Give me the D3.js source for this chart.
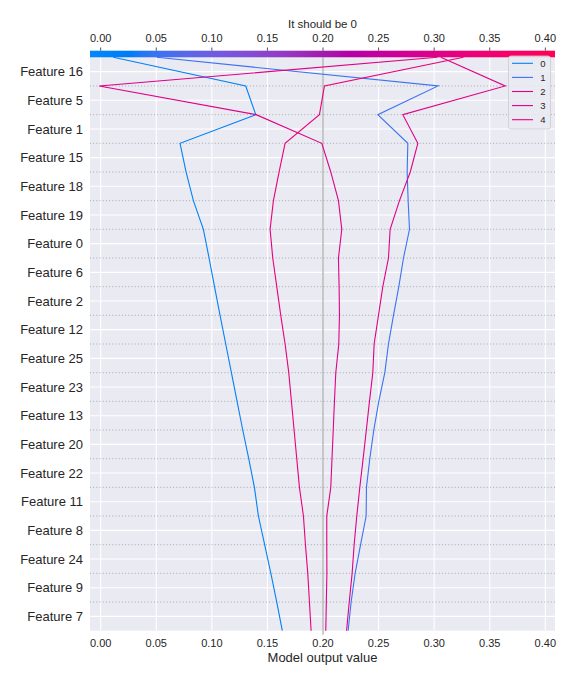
<!DOCTYPE html>
<html>
<head>
<meta charset="utf-8">
<script src="https://cdn.jsdelivr.net/npm/d3@7/dist/d3.min.js"></script>
<style>
  html, body { margin: 0; padding: 0; background: #ffffff; }
  svg text { font-family: "Liberation Sans", Arial, sans-serif; fill: #262626; }
</style>
</head>
<body>
<svg id="chart" width="576" height="684"></svg>
<script>
// Feature names, top to bottom
const features = ["Feature 16","Feature 5","Feature 1","Feature 15","Feature 18","Feature 19",
  "Feature 0","Feature 6","Feature 2","Feature 12","Feature 25","Feature 23","Feature 13",
  "Feature 20","Feature 22","Feature 11","Feature 8","Feature 24","Feature 9","Feature 7"];

// Cumulative model output along each decision path, from the top (final output) to the bottom
const line0 = [0.0114,0.1305,0.1395,0.0714,0.0768,0.0834,0.0924,0.0975,0.1024,0.1074,0.1125,
  0.1176,0.1227,0.1278,0.1332,0.1383,0.1419,0.1475,0.1531,0.1584,0.1634];
const line1 = [0.0504,0.3035,0.2493,0.2763,0.2757,0.2766,0.2778,0.2724,0.2682,0.2634,0.2589,
  0.2556,0.2502,0.2457,0.2421,0.2391,0.2388,0.2338,0.2289,0.2253,0.2226];
const line2 = [0.3030,-0.0013,0.1398,0.1989,0.2070,0.2139,0.2169,0.2139,0.2145,0.2148,0.2142,
  0.2115,0.2103,0.2092,0.2081,0.2070,0.2034,0.2034,0.2035,0.2030,0.2025];
const line3 = [0.3060,0.3639,0.2718,0.2853,0.2785,0.2688,0.2604,0.2589,0.2538,0.2499,0.2460,
  0.2448,0.2418,0.2390,0.2361,0.2331,0.2304,0.2280,0.2262,0.2236,0.2212];
const line4 = [0.3264,0.2013,0.1968,0.1659,0.1605,0.1554,0.1524,0.1548,0.1584,0.1620,0.1659,
  0.1692,0.1716,0.1740,0.1764,0.1788,0.1824,0.1842,0.1863,0.1878,0.1893];
const lineLabels = ["0","1","2","3","4"];
const baseValue = 0.2;
const xTicks = [0.00,0.05,0.10,0.15,0.20,0.25,0.30,0.35,0.40];
const xDomain = [-0.0096, 0.4087];
const xTitle = "Model output value";
const topTitle = "It should be 0";

const lines = [line0, line1, line2, line3, line4];

const svg = d3.select("#chart");
const L = 90, R = 555, T = 57.3, B = 630.7;
const nF = features.length;

const x = d3.scaleLinear().domain(xDomain).range([L, R]);
const y = d3.scaleLinear().domain([0, nF]).range([B, T]);

// SHAP red_blue colormap (LCh interpolation)
function redBlue(t) {
  t = Math.max(0, Math.min(1, t));
  const l = t < 0.5 ? 54 - 14 * (t / 0.5) : 40 + 14 * ((t - 0.5) / 0.5);
  const c = 70 + 20 * t;
  const h = 266.93 + t * (380.32 - 266.93);
  return d3.hcl(h % 360, c, l).formatHex();
}
const norm = d3.scaleLinear().domain(xDomain).range([0, 1]).clamp(true);

// background
svg.append("rect").attr("x", L).attr("y", T).attr("width", R - L).attr("height", B - T)
  .attr("fill", "#eaeaf2");

// vertical white grid
svg.append("g").selectAll("line").data(xTicks).join("line")
  .attr("x1", d => x(d)).attr("x2", d => x(d)).attr("y1", T).attr("y2", B)
  .attr("stroke", "#ffffff").attr("stroke-width", 1.1);

// horizontal white grid at feature labels
svg.append("g").selectAll("line").data(features).join("line")
  .attr("x1", L).attr("x2", R)
  .attr("y1", (d, i) => y(nF - i - 0.5)).attr("y2", (d, i) => y(nF - i - 0.5))
  .attr("stroke", "#ffffff").attr("stroke-width", 1.1);

// dotted separators
svg.append("g").selectAll("line").data(d3.range(1, nF)).join("line")
  .attr("x1", L).attr("x2", R).attr("y1", d => y(d)).attr("y2", d => y(d))
  .attr("stroke", "#888888").attr("stroke-width", 0.8).attr("stroke-dasharray", "1,2.2")
  .attr("opacity", 0.8);

// base value line
svg.append("line").attr("x1", x(baseValue)).attr("x2", x(baseValue))
  .attr("y1", T).attr("y2", B + 4).attr("stroke", "#999999").attr("stroke-width", 1);

// decision lines
const lineGen = d3.line().x(d => x(d.v)).y(d => y(d.k));
const lineG = svg.append("g");
lines.forEach((vals, i) => {
  const pts = vals.map((v, j) => ({ v, k: nF - j }));
  lineG.append("path").attr("d", lineGen(pts)).attr("fill", "none")
    .attr("stroke", redBlue(norm(vals[0]))).attr("stroke-width", 1.1);
});

// y labels
svg.append("g").selectAll("text").data(features).join("text")
  .attr("x", 83).attr("y", (d, i) => y(nF - i - 0.5)).attr("dy", "0.35em")
  .attr("text-anchor", "end").attr("font-size", 13).text(d => d);

// bottom axis labels
svg.append("g").selectAll("text").data(xTicks).join("text")
  .attr("x", d => x(d)).attr("y", 643).attr("dy", "0.35em").attr("text-anchor", "middle")
  .attr("font-size", 11).text(d => d.toFixed(2));
svg.append("text").attr("x", (L + R) / 2).attr("y", 657).attr("dy", "0.35em")
  .attr("text-anchor", "middle").attr("font-size", 13).text(xTitle);

// colorbar
const defs = svg.append("defs");
const grad = defs.append("linearGradient").attr("id", "cb").attr("x1", "0%").attr("x2", "100%");
d3.range(0, 101).forEach(i => {
  grad.append("stop").attr("offset", i + "%").attr("stop-color", redBlue(i / 100));
});
svg.append("rect").attr("x", L).attr("y", 50.7).attr("width", R - L).attr("height", 6.6)
  .attr("fill", "url(#cb)");
svg.append("g").selectAll("line").data(xTicks).join("line")
  .attr("x1", d => x(d)).attr("x2", d => x(d)).attr("y1", 47.5).attr("y2", 50.7)
  .attr("stroke", "#262626").attr("stroke-width", 0.8);
svg.append("g").selectAll("text").data(xTicks).join("text")
  .attr("x", d => x(d)).attr("y", 38).attr("dy", "0.35em").attr("text-anchor", "middle")
  .attr("font-size", 11).text(d => d.toFixed(2));
svg.append("text").attr("x", (L + R) / 2).attr("y", 24).attr("dy", "0.35em")
  .attr("text-anchor", "middle").attr("font-size", 11.5).text(topTitle);

// legend
const lg = svg.append("g");
lg.append("rect").attr("x", 508.5).attr("y", 56).attr("width", 42).attr("height", 73)
  .attr("rx", 2.5).attr("fill", "#eaeaf2").attr("fill-opacity", 0.85)
  .attr("stroke", "#cccccc").attr("stroke-width", 0.8);
lineLabels.forEach((lab, i) => {
  const yy = 63.3 + i * 14.1;
  lg.append("line").attr("x1", 512).attr("x2", 533).attr("y1", yy).attr("y2", yy)
    .attr("stroke", redBlue(norm(lines[i][0]))).attr("stroke-width", 1.1);
  lg.append("text").attr("x", 543).attr("y", yy).attr("dy", "0.35em")
    .attr("text-anchor", "middle").attr("font-size", 9.5).text(lab);
});
</script>
</body>
</html>
